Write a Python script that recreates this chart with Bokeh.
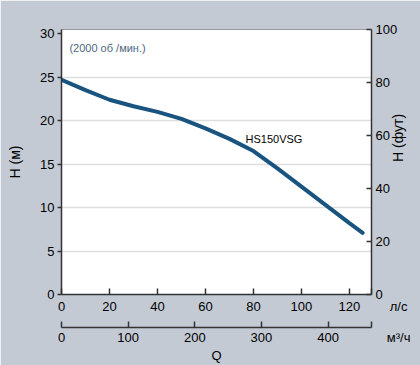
import math
from bokeh.plotting import figure
from bokeh.models import Range1d, LinearAxis, FixedTicker, Label
from bokeh.embed import file_html
from bokeh.resources import INLINE

# data: flow (l/s) vs head (m)
q_ls = [0, 10, 20, 30, 40, 50, 60, 70, 80, 90, 100, 110, 120, 125.5]
head_m = [24.7, 23.5, 22.4, 21.65, 21.0, 20.2, 19.1, 17.9, 16.5, 14.5, 12.4, 10.3, 8.2, 7.1]

h_ticks_m = [0, 5, 10, 15, 20, 25, 30]
h_ticks_ft = [0, 20, 40, 60, 80, 100]
q_ticks_ls = [0, 20, 40, 60, 80, 100, 120]
q_ticks_m3h = [0, 100, 200, 300, 400]
unit_ls = "л/с"
unit_m3h = "м³/ч"
label_ft = "H (фут)"

FONT = "Liberation Sans"
BG = "#c4cad4"
AX = "#333333"

q_max = 129.2
h_max = 30.48
m3h_max = q_max * 3.6
ft_max = h_max * 3.28084

p = figure(width=420, height=365, output_backend="svg", toolbar_location=None,
           x_range=Range1d(0, q_max), y_range=Range1d(0, h_max),
           min_border_left=61, min_border_right=49, min_border_top=29, min_border_bottom=71,
           background_fill_color="white", border_fill_color=BG,
           outline_line_color="#999999", outline_line_width=1)

p.extra_y_ranges = {"ft": Range1d(0, ft_max)}
p.extra_x_ranges = {"m3h": Range1d(0, m3h_max)}

p.line(q_ls, head_m, line_color="#18547f", line_width=4, line_cap="round", line_join="round")

# grid
p.xgrid.visible = False
p.ygrid.ticker = FixedTicker(ticks=[5, 10, 15, 20, 25])
p.ygrid.grid_line_color = "#dddddd"
p.ygrid.grid_line_width = 1.5

def style(ax):
    ax.axis_line_color = AX
    ax.axis_line_width = 1.5
    ax.major_tick_line_color = AX
    ax.major_tick_line_width = 1.5
    ax.minor_tick_line_color = None
    ax.major_label_text_font = FONT
    ax.major_label_text_font_size = "13px"
    ax.major_label_text_color = "black"
    ax.axis_label_text_font = FONT
    ax.axis_label_text_font_size = "14px"
    ax.axis_label_text_font_style = "normal"
    ax.axis_label_text_color = "black"

PAD = "\u00a0" * 15

# left axis
ly = p.yaxis[0]
style(ly)
ly.ticker = FixedTicker(ticks=h_ticks_m)
ly.major_tick_in = 0
ly.major_tick_out = 4
ly.major_label_standoff = 3
ly.axis_label = "H (м)"
ly.axis_label_standoff = 14

# right axis (feet)
ry = LinearAxis(y_range_name="ft", ticker=FixedTicker(ticks=h_ticks_ft))
style(ry)
ry.major_tick_in = 5
ry.major_tick_out = 0
ry.major_label_standoff = 4
p.add_layout(ry, "right")

# right axis title, drawn reading upwards
mid_ft = 50
rt = LinearAxis(y_range_name="ft", ticker=FixedTicker(ticks=[mid_ft]))
style(rt)
rt.major_label_overrides = {mid_ft: label_ft}
rt.major_label_text_font_size = "14px"
rt.major_label_orientation = math.pi / 2
rt.axis_line_color = None
rt.major_tick_line_color = None
rt.major_tick_in = 0
rt.major_tick_out = 0
rt.major_label_standoff = -3
p.add_layout(rt, "right")

# bottom axis l/s (unit shown as label at the axis end)
bx = p.xaxis[0]
style(bx)
end_ls = q_max - 0.001
bx.ticker = FixedTicker(ticks=q_ticks_ls + [end_ls])
bx.major_label_overrides = {end_ls: PAD + unit_ls}
bx.major_tick_in = 6
bx.major_tick_out = 0
bx.major_label_standoff = 4
bx.axis_label = " "
bx.axis_label_text_font_size = "6px"
bx.axis_label_standoff = 2

# second bottom axis m3/h
end_m3h = m3h_max - 0.001
bx2 = LinearAxis(x_range_name="m3h", ticker=FixedTicker(ticks=q_ticks_m3h + [end_m3h]), axis_label="Q")
style(bx2)
bx2.major_label_overrides = {end_m3h: PAD + unit_m3h}
bx2.major_tick_in = 6
bx2.major_tick_out = 0
bx2.major_label_standoff = 2
bx2.axis_label_standoff = 0
bx2.axis_label_text_font_size = "13px"
p.add_layout(bx2, "below")

# annotations
p.add_layout(Label(x=3.3, y=28.3, text="(2000 об /мин.)", text_font=FONT,
                   text_font_size="11px", text_color="#4f6782", text_baseline="alphabetic"))
p.add_layout(Label(x=76.7, y=17.9, text="HS150VSG", text_font=FONT,
                   text_font_size="11px", text_color="black", text_baseline="alphabetic"))

open("out.html", "w").write(file_html(p, INLINE))
